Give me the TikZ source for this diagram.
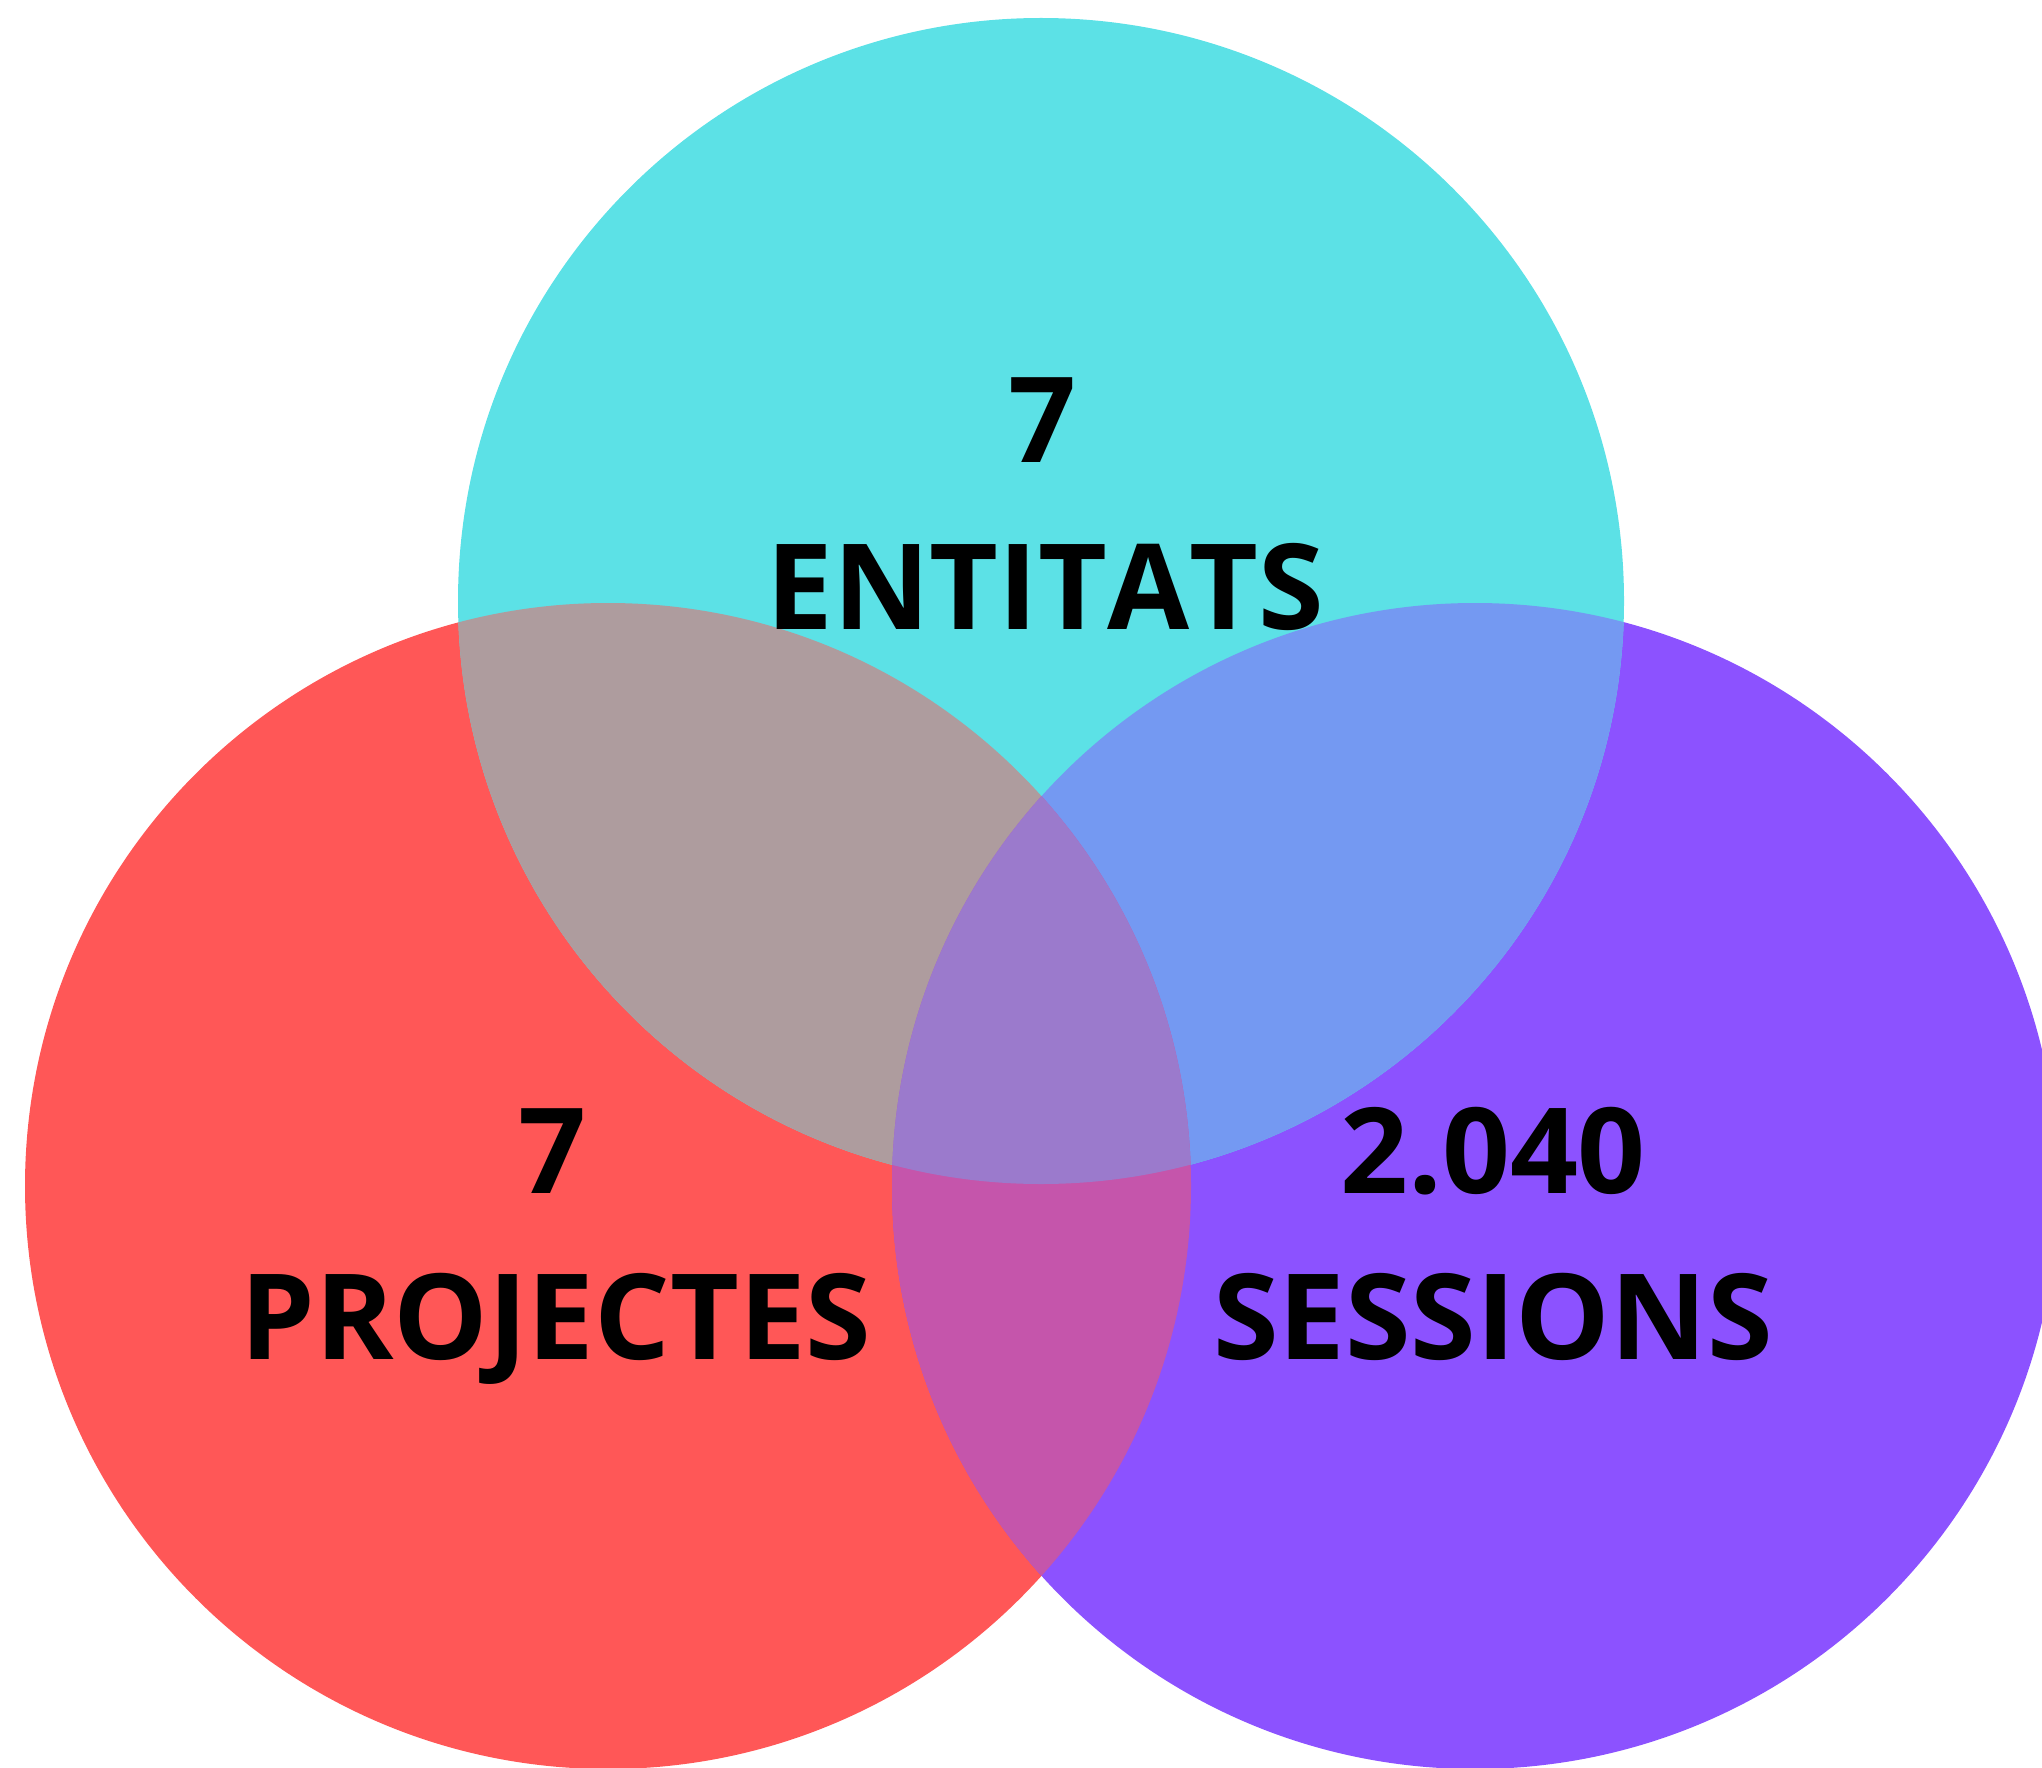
\documentclass[tikz,border=0pt]{standalone}
\usepackage{fontspec}
\setmainfont[Kerning=Off]{Open Sans}
\definecolor{cT}{RGB}{92,225,230}
\definecolor{cL}{RGB}{255,87,87}
\definecolor{cR}{RGB}{140,82,255}
\definecolor{cTL}{RGB}{174,156,158}
\definecolor{cTR}{RGB}{116,153,242}
\definecolor{cLR}{RGB}{197,85,171}
\definecolor{cTLR}{RGB}{155,122,204}
\tikzset{lbl/.style={font=\fontsize{119}{130}\selectfont\bfseries, text=black, inner sep=0pt, anchor=base}}
\begin{document}
\begin{tikzpicture}[x=1pt,y=-1pt]
\useasboundingbox (0,0) rectangle (2042,1768);
\clip (0,0) rectangle (2042,1768);
\def\rr{583}
\coordinate (T) at (1041,601);
\coordinate (L) at (608,1186);
\coordinate (R) at (1475,1186);
\fill[cL] (L) circle (\rr);
\fill[cR] (R) circle (\rr);
\fill[cT] (T) circle (\rr);
\begin{scope}
\clip (T) circle (\rr);
\fill[cTL] (L) circle (\rr);
\fill[cTR] (R) circle (\rr);
\end{scope}
\begin{scope}
\clip (L) circle (\rr);
\fill[cLR] (R) circle (\rr);
\clip (R) circle (\rr);
\fill[cTLR] (T) circle (\rr);
\end{scope}
\node[lbl] (n1) at (1042,462) {7};
\node[lbl] (t1) at (1045,629) {ENTIT\kern0ptA\kern0ptTS};
\node[lbl] (n2) at (552,1193) {7};
\node[lbl] (t2) at (556,1359) {PROJECTES};
\node[lbl] (n3) at (1493,1193) {2.040};
\node[lbl] (t3) at (1493,1359) {SESSIONS};
\end{tikzpicture}
\end{document}
